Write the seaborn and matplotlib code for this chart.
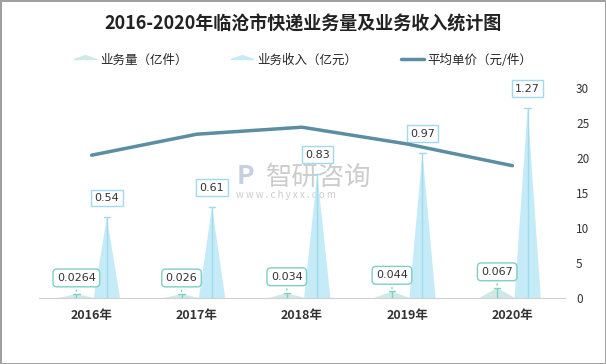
import matplotlib
matplotlib.use('Agg')
import matplotlib.pyplot as plt
import seaborn as sns
import numpy as np
from matplotlib.lines import Line2D

years = ['2016年', '2017年', '2018年', '2019年', '2020年']
volume = [0.0264, 0.026, 0.034, 0.044, 0.067]       # 业务量（亿件）
revenue = [0.54, 0.61, 0.83, 0.97, 1.27]            # 业务收入（亿元）
unit_price = [20.4, 23.4, 24.4, 22.0, 18.9]         # 平均单价（元/件）
vol_labels = ['0.0264', '0.026', '0.034', '0.044', '0.067']
rev_labels = ['0.54', '0.61', '0.83', '0.97', '1.27']

sns.set_style('white')
plt.rcParams['font.family'] = ['Noto Sans CJK SC', 'DejaVu Sans']

vol_color = '#cfeae6'
vol_edge = '#7fcfc3'
rev_color = '#c6ebf8'
rev_edge = '#9fdbec'
line_color = '#5b8ea3'

fig = plt.figure(figsize=(6.06, 3.64), dpi=100)
fig.patch.set_edgecolor('#a0a0a0')
fig.patch.set_linewidth(2)
ax = fig.add_axes([39 / 606, 1 - 298 / 364, 526 / 606, 210 / 364])
ax2 = ax.twinx()

# watermark, kept under the marks and labels
ax.text(266 / 606, 1 - 177 / 364, '智研咨询', fontsize=19, color='#cccccc', ha='left',
        va='center', transform=fig.transFigure, zorder=0)
ax.text(236 / 606, 1 - 195 / 364, 'w w w . c h y x x . c o m', fontsize=7, color='#cccccc',
        ha='left', va='center', transform=fig.transFigure, zorder=0)
ax.text(245 / 606, 1 - 176 / 364, 'P', fontsize=19, color='#c6d0e2', ha='center',
        va='center', fontweight='bold', transform=fig.transFigure, zorder=0)

x = np.arange(len(years))
off = 0.145


def spike(ax, cx, h, half, face, edge):
    ax.fill([cx - half, cx, cx + half], [0, h, 0], color=face, lw=0, zorder=2)
    ax.plot([cx, cx], [0, h], color=edge, lw=1, zorder=3)
    ax.plot([cx - 0.03, cx + 0.03], [h, h], color=edge, lw=1, zorder=3)


for i in range(len(years)):
    spike(ax, x[i] - off, volume[i], 0.17, vol_color, vol_edge)
    spike(ax, x[i] + off, revenue[i], 0.125, rev_color, rev_edge)
    ax.annotate(rev_labels[i], (x[i] + off, revenue[i]), xytext=(0, 10),
                textcoords='offset points', ha='center', va='bottom',
                fontsize=8, color='#333333', family='DejaVu Sans',
                bbox=dict(boxstyle='square,pad=0.3', fc='white', ec=rev_edge, lw=1),
                zorder=5)
    ax.annotate(vol_labels[i], (x[i] - off, volume[i]), xytext=(0, 8),
                textcoords='offset points', ha='center', va='bottom',
                fontsize=8, color='#333333', family='DejaVu Sans',
                bbox=dict(boxstyle='round,pad=0.35', fc='white', ec=vol_edge, lw=1),
                arrowprops=dict(arrowstyle='-', color=vol_edge, lw=1),
                zorder=5)

ax.set_xlim(-0.5, len(years) - 0.5)
ax.set_ylim(0, 1.4)
ax.set_yticks([])
ax.set_xticks(x)
ax.set_xticklabels(years, fontsize=9, fontweight='bold', color='#333333')
ax.tick_params(axis='x', length=0, pad=8)
for s in ['top', 'left', 'right']:
    ax.spines[s].set_visible(False)
ax.spines['bottom'].set_color('#d0d0d0')

sns.lineplot(x=x, y=unit_price, ax=ax2, color=line_color, lw=2.5, zorder=4)
ax2.set_ylim(0, 30)
ax2.set_yticks(range(0, 31, 5))
ax2.tick_params(axis='y', length=0, labelsize=8.5, labelcolor='#333333', pad=8)
for s in ['top', 'left', 'right', 'bottom']:
    ax2.spines[s].set_visible(False)
ax2.set_xlim(-0.5, len(years) - 0.5)

fig.text(0.5, 0.935, '2016-2020年临沧市快递业务量及业务收入统计图', fontsize=13,
         fontweight='bold', color='#222222', ha='center', va='center')

flat_tri = [(-1, 0), (0, 0.35), (1, 0), (-1, 0)]
handles = [
    Line2D([], [], marker=flat_tri, ls='none', markersize=16, color=vol_color),
    Line2D([], [], marker=flat_tri, ls='none', markersize=16, color=rev_color),
    Line2D([], [], color=line_color, lw=2.5),
]
fig.legend(handles, ['业务量（亿件）', '业务收入（亿元）', '平均单价（元/件）'],
           loc='center', bbox_to_anchor=(0.5, 0.835), ncol=3, frameon=False,
           fontsize=9, handlelength=1.8, columnspacing=3.5, handletextpad=0.3)

fig.savefig('out.png', dpi=100)
